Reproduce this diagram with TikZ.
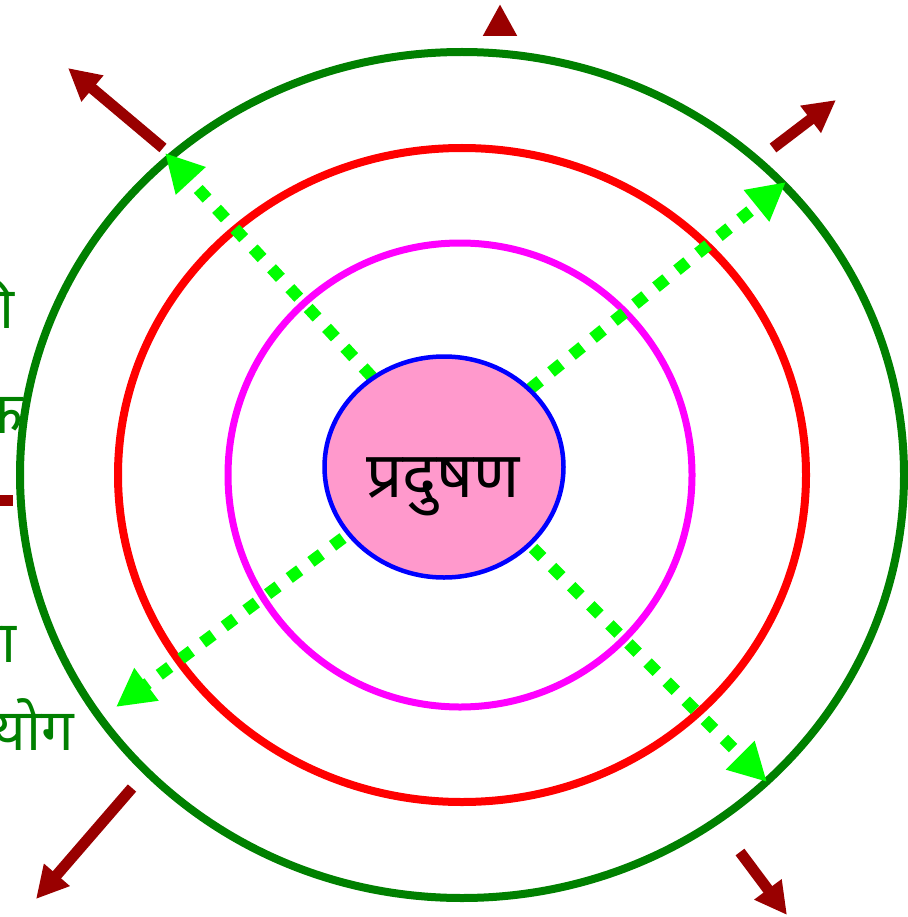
\documentclass[tikz,border=0pt]{standalone}
\usepackage{fontspec}
\newfontfamily\deva[Script=Devanagari]{Noto Sans}
\usetikzlibrary{arrows.meta,shapes.geometric}
\definecolor{dred}{HTML}{990000}
\definecolor{dgreen}{HTML}{008000}
\definecolor{lime}{HTML}{00FF00}
\definecolor{pinkfill}{HTML}{FF99CC}
\definecolor{ringred}{HTML}{FF0000}
\definecolor{ringmag}{HTML}{FF00FF}
\definecolor{ringblue}{HTML}{0000FF}
\tikzset{
  ring/.style={line width=8pt},
  redarrow/.style={draw=dred, line width=11pt, -{Triangle[length=32pt,width=32pt]}},
  gdash/.style={draw=lime, line width=12pt, dash pattern=on 13pt off 14pt,
    -{Triangle[length=38pt,width=38pt]}},
  sidetext/.style={anchor=base east, text=dgreen, inner sep=0pt,
    font=\deva\fontsize{58}{62}\selectfont},
}
\begin{document}
\begin{tikzpicture}[x=1pt,y=-1pt]
\useasboundingbox (0,0) rectangle (907,917);
% rings
\draw[ring, draw=dgreen] (462,475) ellipse [x radius=442pt, y radius=423pt];
\draw[ring, draw=ringred] (462,475) ellipse [x radius=344pt, y radius=327pt];
\draw[line width=7pt, draw=ringmag] (460,475) ellipse [x radius=232pt, y radius=232pt];
% dark red arrows
\coordinate (r1s) at (163,148); \coordinate (r1t) at (68,68);
\coordinate (r2s) at (773,148); \coordinate (r2t) at (836,100);
\coordinate (r3s) at (132,788); \coordinate (r3t) at (36,899);
\coordinate (r4s) at (740,852); \coordinate (r4t) at (787,915);
\coordinate (r5s) at (500,36);  \coordinate (r5t) at (500,4);
\coordinate (r6s) at (13,500);  \coordinate (r6t) at (-80,500);
\foreach \i in {1,...,6} \draw[redarrow] (r\i s) -- (r\i t);
% green dashed arrows
\coordinate (g1s) at (372,377); \coordinate (g1t) at (165,153);
\coordinate (g2s) at (530,389); \coordinate (g2t) at (786,182);
\coordinate (g3s) at (343,538); \coordinate (g3t) at (116,707);
\coordinate (g4s) at (533,548); \coordinate (g4t) at (767,782);
\foreach \i in {1,...,4} \draw[gdash] (g\i s) -- (g\i t);
% centre
\node[ellipse, draw=ringblue, line width=4.5pt, fill=pinkfill, inner sep=0pt,
  minimum width=239pt, minimum height=221pt] (p) at (444,467) {};
\node[anchor=base, inner sep=0pt, font=\deva\fontsize{64}{68}\selectfont] (pt) at (443,497) {प्रदुषण};
% side texts (clipped by the frame)
\node[sidetext] (t1) at (15,328) {वनों की};
\node[sidetext] (t2) at (23,433) {औद्योगिक};
\node[sidetext] (t3) at (17,662) {रसायनों का};
\node[sidetext] (t4) at (74,750) {प्रयोग};
\end{tikzpicture}
\end{document}
